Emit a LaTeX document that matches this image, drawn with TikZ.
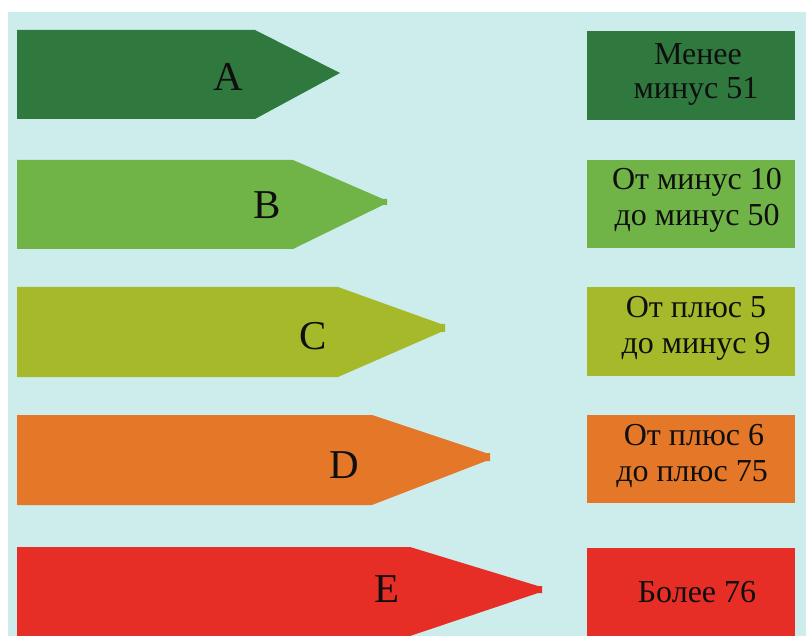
\documentclass[tikz,border=0pt]{standalone}
\usepackage{fontspec}
\setmainfont{Liberation Serif}
\definecolor{bgcyan}{RGB}{205,237,237}
\definecolor{clsA}{RGB}{47,121,63}
\definecolor{clsB}{RGB}{112,180,72}
\definecolor{clsC}{RGB}{165,185,42}
\definecolor{clsD}{RGB}{228,120,40}
\definecolor{clsE}{RGB}{230,46,38}
\definecolor{ink}{RGB}{15,15,15}
\tikzset{
  letter/.style={anchor=base, inner sep=0pt, text=ink, font=\fontsize{41}{41}\selectfont},
  rangetext/.style={anchor=base, inner sep=0pt, text=ink, font=\fontsize{32}{32}\selectfont},
}
\begin{document}
\begin{tikzpicture}[x=1pt,y=-1pt]
\useasboundingbox (0,0) rectangle (806,636);
\fill[white] (0,0) rectangle (806,636);
\fill[bgcyan] (8,12) rectangle (806,636);

% class arrows
\fill[clsA] (17,30) -- (255,30) -- (340,73) -- (255,119) -- (17,119) -- cycle;
\fill[clsB] (17,160) -- (293,160) -- (383,199) -- (387,199) -- (387,205) -- (383,205) -- (293,249) -- (17,249) -- cycle;
\fill[clsC] (17,287) -- (338,287) -- (441,324) -- (445,324) -- (445,332) -- (441,332) -- (338,377) -- (17,377) -- cycle;
\fill[clsD] (17,415) -- (372,415) -- (486,453) -- (490,453) -- (490,461) -- (486,461) -- (372,505) -- (17,505) -- cycle;
\fill[clsE] (17,547) -- (410,547) -- (538,586) -- (542,586) -- (542,593) -- (538,593) -- (410,636) -- (17,636) -- cycle;

% class letters
\node[letter] (lA) at (228,91) {A};
\node[letter] (lB) at (267,219) {B};
\node[letter] (lC) at (313,349) {C};
\node[letter] (lD) at (344,478) {D};
\node[letter] (lE) at (387,602) {E};

% range boxes
\fill[clsA] (587,31) rectangle (795,120);
\fill[clsB] (587,160) rectangle (795,248);
\fill[clsC] (587,287) rectangle (795,376);
\fill[clsD] (587,415) rectangle (795,503);
\fill[clsE] (587,548) rectangle (795,636);

% range texts
\node[rangetext] (tA1) at (698,65) {Менее};
\node[rangetext] (tA2) at (696,99) {минус 51};
\node[rangetext] (tB1) at (697,190) {От минус 10};
\node[rangetext] (tB2) at (697,226) {до минус 50};
\node[rangetext] (tC1) at (696,318) {От плюс 5};
\node[rangetext] (tC2) at (696,353) {до минус 9};
\node[rangetext] (tD1) at (694,445) {От плюс 6};
\node[rangetext] (tD2) at (692,481) {до плюс 75};
\node[rangetext] (tE1) at (697,602) {Более 76};
\end{tikzpicture}
\end{document}
